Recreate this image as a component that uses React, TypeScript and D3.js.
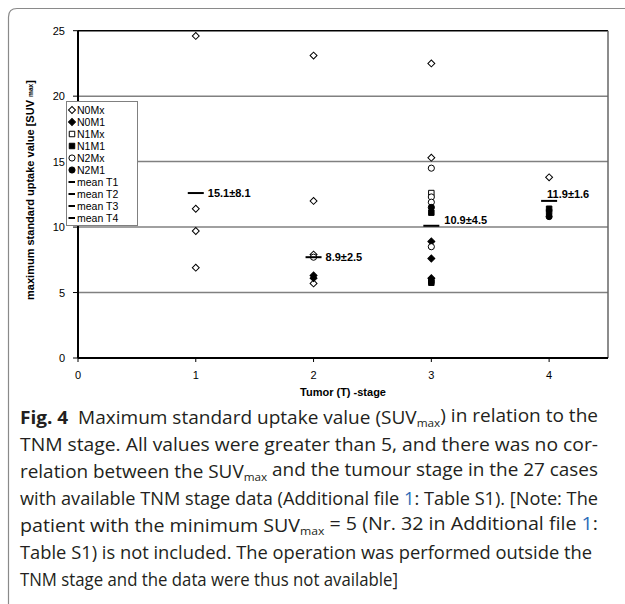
import React from "react";
import * as d3 from "d3";

// T-stage categories and SUVmax values per legend group
const stages = [1, 2, 3, 4];
const groups = ["N0Mx", "N0M1", "N1Mx", "N1M1", "N2Mx", "N2M1"];
const n0mx = [
  [1, 24.6], [1, 11.4], [1, 9.7], [1, 6.9],
  [2, 23.1], [2, 12.0], [2, 7.9], [2, 5.7],
  [3, 22.5], [3, 15.3],
  [4, 13.8],
];
const n0m1 = [[2, 6.3], [2, 6.1], [3, 8.9], [3, 7.6], [3, 6.1]];
const n1mx = [[3, 12.6]];
const n1m1 = [[3, 11.1], [3, 5.9], [3, 5.75], [4, 11.4], [4, 11.15]];
const n2mx = [[2, 7.7], [3, 14.5], [3, 12.3], [3, 11.9], [3, 8.5]];
const n2m1 = [[3, 11.5], [4, 10.8]];
const meanValues = [12.6, 7.7, 10.1, 12.0];
const meanLabels = ["15.1±8.1", "8.9±2.5", "10.9±4.5", "11.9±1.6"];
const yTicks = [0, 5, 10, 15, 20, 25];
const xTicks = [0, 1, 2, 3, 4];

const W = 625;
const H = 604;
const FONT = "'Liberation Sans', Arial, sans-serif";
const CAP = "'Open Sans', 'Noto Sans', sans-serif";

const x = d3.scaleLinear().domain([0, 4.5]).range([78, 608]);
const y = d3.scaleLinear().domain([0, 25]).range([358, 30.7]);

const diamond = d3.symbol().type(d3.symbolSquare).size(24)();
const square = d3.symbol().type(d3.symbolSquare).size(30)();
const circle = d3.symbol().type(d3.symbolCircle).size(30)();

const seriesStyle = [
  { data: n0mx, path: diamond, rot: 45, fill: "#fff" },
  { data: n0m1, path: diamond, rot: 45, fill: "#000" },
  { data: n1mx, path: square, rot: 0, fill: "#fff" },
  { data: n1m1, path: square, rot: 0, fill: "#000" },
  { data: n2mx, path: circle, rot: 0, fill: "#fff" },
  { data: n2m1, path: circle, rot: 0, fill: "#000" },
];

// label placement relative to mean bar (dx, dy)
const labelPos = [[12, 4], [12, 4], [13, -2], [-2, -3]];

export default function App() {
  const legendTop = 110;
  const legendStep = 12;
  const legendItems = [...groups, ...stages.map((s) => `mean T${s}`)];

  const capLines = [
    { len: 578, body: (
      <>
        <tspan fontWeight="bold">Fig. 4</tspan>
        <tspan>{"\u00a0\u00a0Maximum standard uptake value (SUV"}</tspan>
        <tspan fontSize="0.62em" dy="0.3em">max</tspan>
        <tspan dy="-0.3em" fontSize="1em">{") in relation to the"}</tspan>
      </>
    ) },
    { len: 578, body: "TNM stage. All values were greater than 5, and there was no cor-" },
    { len: 578, body: (
      <>
        <tspan>relation between the SUV</tspan>
        <tspan fontSize="0.62em" dy="0.3em">max</tspan>
        <tspan dy="-0.3em">{" and the tumour stage in the 27 cases"}</tspan>
      </>
    ) },
    { len: 578, body: (
      <>
        <tspan>with available TNM stage data (Additional file </tspan>
        <tspan fill="#2b6cb8">1</tspan>
        <tspan>: Table S1). [Note: The</tspan>
      </>
    ) },
    { len: 578, body: (
      <>
        <tspan>patient with the minimum SUV</tspan>
        <tspan fontSize="0.62em" dy="0.3em">max</tspan>
        <tspan dy="-0.3em">{" = 5 (Nr. 32 in Additional file "}</tspan>
        <tspan fill="#2b6cb8">1</tspan>
        <tspan>:</tspan>
      </>
    ) },
    { len: 572, body: "Table S1) is not included. The operation was performed outside the" },
    { len: 378, body: "TNM stage and the data were thus not available]" },
  ];

  return (
    <svg width={W} height={H} style={{ position: "absolute", left: 0, top: 0, background: "#fff" }}>
      <path d="M8.5,700 L8.5,17 Q8.5,8.5 17,8.5 L700,8.5" fill="none" stroke="#8a8a8a" strokeWidth={1.2} />

      {/* gridlines */}
      {yTicks.filter((t) => t > 0 && t < 25).map((t) => (
        <line key={t} x1={x(0)} x2={x(4.5)} y1={y(t)} y2={y(t)} stroke="#808080" strokeWidth={1.5} />
      ))}

      {/* plot frame */}
      <line x1={x(0)} x2={x(4.5)} y1={y(25)} y2={y(25)} stroke="#000" strokeWidth={1.5} />
      <line x1={x(4.5)} x2={x(4.5)} y1={y(25)} y2={y(0)} stroke="#666" strokeWidth={1.5} />
      <line x1={x(0)} x2={x(0)} y1={y(25)} y2={y(0)} stroke="#000" strokeWidth={2} />
      <line x1={x(0)} x2={x(4.5)} y1={y(0)} y2={y(0)} stroke="#000" strokeWidth={2} />

      {/* y ticks */}
      {yTicks.map((t) => (
        <g key={t}>
          <line x1={x(0) - 5} x2={x(0)} y1={y(t)} y2={y(t)} stroke="#000" strokeWidth={1} />
          <text x={x(0) - 13} y={y(t) + 4} textAnchor="end" fontFamily={FONT} fontSize={11}>{t}</text>
        </g>
      ))}
      {/* x ticks */}
      {xTicks.map((t) => (
        <g key={t}>
          <line x1={x(t)} x2={x(t)} y1={y(0)} y2={y(0) + 4} stroke="#000" strokeWidth={1} />
          <text x={x(t)} y={y(0) + 21} textAnchor="middle" fontFamily={FONT} fontSize={11}>{t}</text>
        </g>
      ))}

      <text x={(x(0) + x(4.5)) / 2} y={396} textAnchor="middle" fontFamily={FONT} fontSize={11} fontWeight="bold">
        Tumor (T) -stage
      </text>
      <text transform={`translate(34,190) rotate(-90)`} textAnchor="middle" fontFamily={FONT} fontSize={11} fontWeight="bold">
        maximum standard uptake value [SUV <tspan fontSize="0.6em" dy="-0.1em">max</tspan><tspan dy="0.1em">]</tspan>
      </text>

      {/* points */}
      {seriesStyle.map((s, i) =>
        s.data.map(([t, v], j) => (
          <path
            key={`${i}-${j}`}
            d={s.path}
            transform={`translate(${x(t)},${y(v)}) rotate(${s.rot})`}
            fill={s.fill}
            stroke="#000"
            strokeWidth={1}
          />
        ))
      )}

      {/* means */}
      {meanValues.map((m, i) => (
        <g key={i}>
          <line x1={x(stages[i]) - 8} x2={x(stages[i]) + 8} y1={y(m)} y2={y(m)} stroke="#000" strokeWidth={2} />
          <text x={x(stages[i]) + labelPos[i][0]} y={y(m) + labelPos[i][1]} fontFamily={FONT} fontSize={11} fontWeight="bold">
            {meanLabels[i]}
          </text>
        </g>
      ))}

      {/* legend */}
      <rect x={66.5} y={legendTop - 8.5} width={71} height={legendStep * 10 + 4} fill="#fff" stroke="#808080" strokeWidth={1} />
      {legendItems.map((name, i) => {
        const ly = legendTop + i * legendStep;
        const s = seriesStyle[i];
        return (
          <g key={name}>
            {s ? (
              <path d={s.path} transform={`translate(72,${ly}) rotate(${s.rot})`} fill={s.fill} stroke="#000" strokeWidth={1} />
            ) : (
              <line x1={68.5} x2={75} y1={ly} y2={ly} stroke="#000" strokeWidth={2} />
            )}
            <text x={77} y={ly + 4} fontFamily={FONT} fontSize={10.5}>{name}</text>
          </g>
        );
      })}

      {/* caption */}
      {capLines.map((l, i) => (
        <text
          key={i}
          x={20}
          y={424 + i * 27}
          fontFamily={CAP}
          fontSize={17.5}
          fill="#231f20"
          textLength={l.len}
          lengthAdjust="spacingAndGlyphs"
        >
          {l.body}
        </text>
      ))}
    </svg>
  );
}
